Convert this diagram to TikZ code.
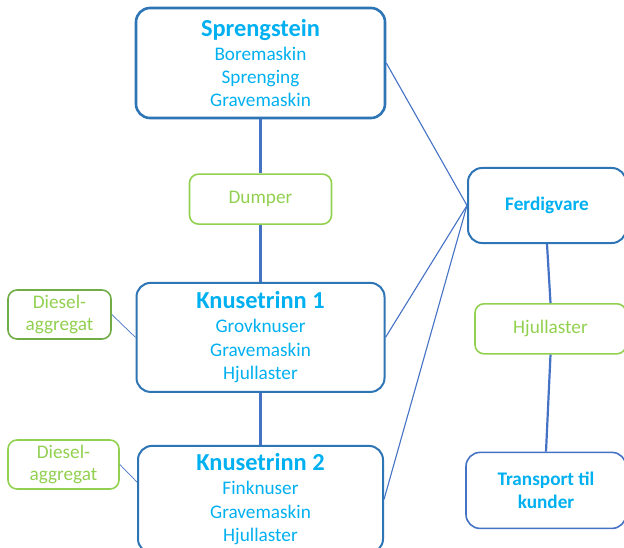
\documentclass[tikz,border=0pt]{standalone}
\usepackage{fontspec}
\setmainfont{Carlito}
\usetikzlibrary{positioning}
\definecolor{boxblue}{HTML}{2E75B6}
\definecolor{textblue}{HTML}{00B0F0}
\definecolor{linkblue}{HTML}{4472C4}
\definecolor{lightgreen}{HTML}{92D050}
\definecolor{darkgreen}{HTML}{70AD47}
\newcommand{\heading}[1]{{\fontsize{24.5}{26}\selectfont\bfseries #1}}

\begin{document}
\begin{tikzpicture}[x=1bp, y=-1bp, % Setting global styles
    stage/.style={draw=boxblue, line width=2bp, rounded corners=14bp, text=textblue,
      align=center, inner sep=0pt, font=\fontsize{19.3}{23.5}\selectfont},
    carrier/.style={draw=lightgreen, line width=1.6bp, rounded corners=9bp, text=lightgreen,
      align=center, inner sep=0pt, font=\fontsize{19.3}{23}\selectfont},
    link/.style={draw=linkblue, line width=2.2bp},
    thin link/.style={draw=linkblue, line width=1.1bp},
    hair link/.style={draw=linkblue, line width=0.7bp}]

    \clip (0,0) rectangle (624,548);

    % 1. Define Nodes: production stages on the left
    \node[stage, line width=2.6bp, minimum width=249bp, minimum height=110bp] (spreng) at (260.5,63)
      {\heading{Sprengstein}\\[0.5pt] Boremaskin\\ Sprenging\\ Gravemaskin};
    \node[carrier, minimum width=142bp, minimum height=50bp] (dumper) [below=54bp of spreng] {Dumper};
    \node[stage, minimum width=248bp, minimum height=109bp] (knuse1) [below=57bp of dumper]
      {\heading{Knusetrinn 1}\\[0.5pt] Grovknuser\\ Gravemaskin\\ Hjullaster};
    \node[stage, minimum width=245bp, minimum height=107bp] (knuse2) [below=52bp of knuse1]
      {\heading{Knusetrinn 2}\\[0.5pt] Finknuser\\ Gravemaskin\\ Hjullaster};

    % 2. Diesel units beside the crushers
    \node[carrier, draw=darkgreen, minimum width=103bp, minimum height=49bp] (diesel1) at (59.5,314.5)
      {Diesel-\\ aggregat};
    \node[carrier, minimum width=111bp, minimum height=49bp] (diesel2) at (63.5,464.5)
      {Diesel-\\ aggregat};

    % 3. Right column: finished goods and transport
    \node[stage, font=\fontsize{19.3}{23}\selectfont\bfseries, minimum width=158bp, minimum height=75bp]
      (ferdig) at (547,205.5) {Ferdigvare};
    \node[carrier, minimum width=151bp, minimum height=50bp, xshift=3.5bp] (hjul) [below=59bp of ferdig] {Hjullaster};
    \node[stage, draw=linkblue, line width=1.6bp, font=\fontsize{19.3}{23}\selectfont\bfseries,
      minimum width=160bp, minimum height=76bp] (transport) [below=97bp of hjul, xshift=-4.5bp] {Transport til\\ kunder};

    % 4. Draw connectors
    \draw[link] (spreng.south) -- (dumper.north);
    \draw[link] (dumper.south) -- (knuse1.north);
    \draw[link] (knuse1.south) -- (knuse2.north);
    \draw[link] (ferdig.south) -- (hjul.north);
    \draw[link] (hjul.south) -- (transport.north);
    \draw[thin link] (spreng.east) -- (ferdig.west);
    \draw[thin link] (knuse1.east) -- (ferdig.west);
    \draw[thin link] (knuse2.east) -- (ferdig.west);
    \draw[hair link] (diesel1.east) -- (knuse1.west);
    \draw[hair link] (diesel2.east) -- (knuse2.172);
\end{tikzpicture}
\end{document}
